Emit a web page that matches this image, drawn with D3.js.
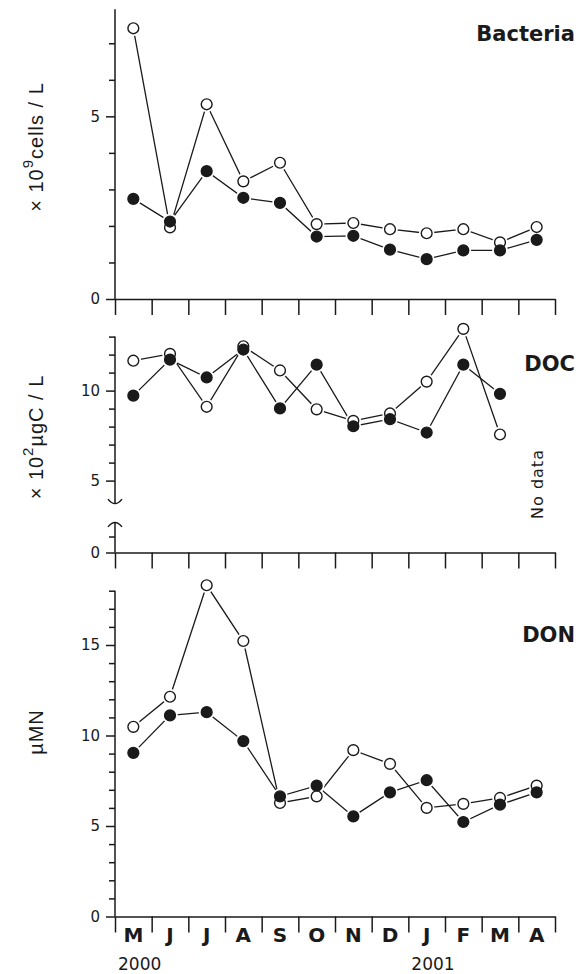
<!DOCTYPE html>
<html>
<head>
<meta charset="utf-8">
<script src="https://cdn.jsdelivr.net/npm/d3@7"></script>
<style>
  body { margin: 0; background: #fff; }
  text { fill: #1a1a1a; }
</style>
</head>
<body>
<svg id="chart" width="578" height="974"></svg>
<script>
// month labels along the bottom, May 2000 .. April 2001
let months = ["M", "J", "J", "A", "S", "O", "N", "D", "J", "F", "M", "A"]
let yearLabels = ["2000", "2001"]
let yearStart = [0, 8]   // month index where each year label sits

// Bacteria, x 10^9 cells / L
let bactOpen = [7.41, 1.96, 5.33, 3.22, 3.73, 2.05, 2.08, 1.91, 1.80, 1.91, 1.55, 1.97]
let bactFilled = [2.74, 2.12, 3.50, 2.77, 2.63, 1.71, 1.73, 1.35, 1.09, 1.33, 1.33, 1.62]

// DOC, x 10^2 ugC / L  (no data for the last April)
let docOpen = [11.66, 12.04, 9.1, 12.46, 11.12, 8.96, 8.32, 8.73, 10.5, 13.43, 7.56, null]
let docFilled = [9.72, 11.72, 10.73, 12.28, 9.01, 11.44, 8.02, 8.41, 7.67, 11.44, 9.82, null]

// DON, uMN
let donOpen = [10.48, 12.14, 18.3, 15.22, 6.27, 6.64, 9.19, 8.43, 6.0, 6.22, 6.55, 7.23]
let donFilled = [9.04, 11.11, 11.29, 9.69, 6.64, 7.23, 5.53, 6.86, 7.53, 5.22, 6.18, 6.86]

let svg = d3.select("#chart")
let ink = "#1a1a1a"
let numFont = "DejaVu Sans"
let titleFont = "Liberation Sans"

let x = d3.scaleBand().domain(d3.range(months.length)).range([115, 555])
let xEdge = d3.scaleLinear().domain([0, months.length]).range(x.range())
let cx = i => x(i) + x.bandwidth() / 2

function xAxis(y0) {
    let g = svg.append("g").attr("transform", "translate(0," + y0 + ")")
        .call(d3.axisBottom(xEdge)
            .tickValues(d3.range(months.length + 1))
            .tickSize(16).tickSizeOuter(0).tickFormat(""))
    g.selectAll("path, line").attr("stroke", ink).attr("stroke-width", 1.5)
    return g
}

function yAxis(y, ticks, from, to) {
    let g = svg.append("g").attr("transform", "translate(115,0)")
        .call(d3.axisLeft(y).tickValues(ticks).tickSize(6).tickSizeOuter(0)
            .tickFormat(d => d % 5 === 0 ? d : ""))
    g.select(".domain").attr("d", "M0," + y(from) + "V" + y(to))
    g.selectAll("path, line").attr("stroke", ink).attr("stroke-width", 1.5)
    g.selectAll(".tick").filter(d => d % 5 === 0).select("line").attr("x2", -9)
    g.selectAll(".tick text").attr("x", -15).attr("fill", ink)
        .style("font-family", numFont).style("font-size", "15px")
    return g
}

function series(y, open, filled) {
    let line = d3.line()
        .defined(d => d != null)
        .x((d, i) => cx(i))
        .y(d => y(d))
    let g = svg.append("g")
    ;[open, filled].forEach(vals => {
        g.append("path").datum(vals).attr("d", line)
            .attr("fill", "none").attr("stroke", ink).attr("stroke-width", 1.3)
    })
    // white halo so the lines stop short of the markers
    ;[open, filled].forEach(vals => {
        g.selectAll(null).data(vals.map((v, i) => ({v, i})).filter(d => d.v != null))
            .join("circle")
            .attr("cx", d => cx(d.i)).attr("cy", d => y(d.v))
            .attr("r", 7.8).attr("fill", "#fff")
    })
    ;[[open, "#fff"], [filled, ink]].forEach(([vals, fill]) => {
        g.selectAll(null).data(vals.map((v, i) => ({v, i})).filter(d => d.v != null))
            .join("circle")
            .attr("cx", d => cx(d.i)).attr("cy", d => y(d.v))
            .attr("r", 5.4).attr("fill", fill)
            .attr("stroke", ink).attr("stroke-width", 1.4)
    })
}

function panelLabel(txt, yb) {
    svg.append("text").attr("x", 575).attr("y", yb)
        .attr("text-anchor", "end")
        .style("font-family", "DejaVu Sans").style("font-weight", "bold")
        .style("font-size", "21px")
        .text(txt)
}

function yTitle(cxp, cyp, parts) {
    let t = svg.append("text")
        .attr("transform", "translate(" + cxp + "," + cyp + ") rotate(-90)")
        .attr("text-anchor", "middle")
        .style("font-family", titleFont).style("font-size", "20px")
        .style("letter-spacing", "1px")
    parts.forEach(p => {
        let s = t.append("tspan").text(p.t)
        if (p.sup) s.attr("dy", -10).style("font-size", "15px")
        if (p.down) s.attr("dy", 10)
    })
}

// ---------- Bacteria ----------
let yBact = d3.scaleLinear().domain([0, 7.93]).range([299, 9.3])
xAxis(299)
yAxis(yBact, d3.range(0, 8), 0, 7.93)
series(yBact, bactOpen, bactFilled)
panelLabel("Bacteria", 41)
yTitle(43, 147, [{t: "× 10"}, {t: "9", sup: true}, {t: "cells / L", down: true}])

// ---------- DOC (broken axis) ----------
let yDocUp = d3.scaleLinear().domain([10, 5]).range([390.6, 480.6])
let yDocLow = d3.scaleLinear().domain([0, 1]).range([552.5, 536.5])
xAxis(552.5)
yAxis(yDocUp, d3.range(5, 14), 3.75, 13)
yAxis(yDocLow, [0, 1], 0, 1.85)
// break marks
let bTop = yDocUp(3.75), bBot = yDocLow(1.85)
svg.append("path")
    .attr("d", "M108," + (bTop - 4) + "Q115," + (bTop + 5) + " 122," + (bTop - 4))
    .attr("fill", "none").attr("stroke", ink).attr("stroke-width", 1.5)
svg.append("path")
    .attr("d", "M108," + (bBot + 4) + "Q115," + (bBot - 5) + " 122," + (bBot + 4))
    .attr("fill", "none").attr("stroke", ink).attr("stroke-width", 1.5)
series(yDocUp, docOpen, docFilled)
panelLabel("DOC", 371)
yTitle(43, 437, [{t: "× 10"}, {t: "2", sup: true}, {t: "µgC / L", down: true}])
svg.append("text")
    .attr("transform", "translate(543,484) rotate(-90)")
    .attr("text-anchor", "middle")
    .style("font-family", "DejaVu Sans").style("font-size", "16px")
    .style("letter-spacing", "1px")
    .text("No data")

// ---------- DON ----------
let yDon = d3.scaleLinear().domain([0, 18]).range([916.5, 590.7])
xAxis(916.5)
yAxis(yDon, d3.range(0, 19), 0, 18)
series(yDon, donOpen, donFilled)
panelLabel("DON", 642)
yTitle(43, 732, [{t: "µMN"}])

// month and year labels
svg.append("g").selectAll("text").data(months).join("text")
    .attr("x", (d, i) => cx(i)).attr("y", 942)
    .attr("text-anchor", "middle")
    .style("font-family", "DejaVu Sans").style("font-weight", "bold")
    .style("font-size", "20px")
    .text(d => d)
svg.append("g").selectAll("text").data(yearLabels).join("text")
    .attr("x", (d, i) => x(yearStart[i]) + 3).attr("y", 970)
    .style("font-family", "DejaVu Sans").style("font-size", "17px")
    .text(d => d)
</script>
</body>
</html>
